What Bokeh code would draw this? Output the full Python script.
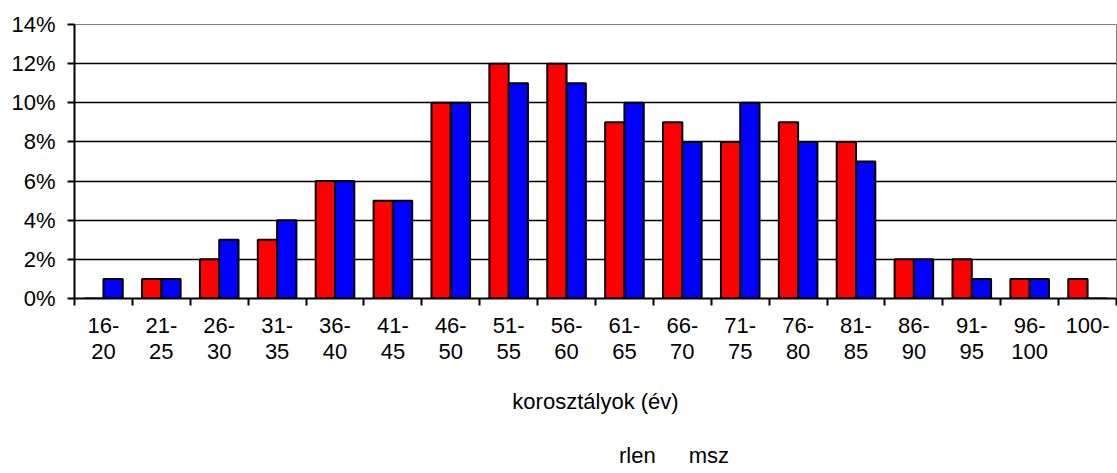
from bokeh.plotting import figure
from bokeh.layouts import column
from bokeh.models import (Range1d, LinearAxis, FixedTicker, CustomJSTickFormatter,
                          PrintfTickFormatter, Legend, LegendItem, ColumnDataSource, Grid)
from bokeh.transform import dodge
from bokeh.embed import file_html
from bokeh.resources import INLINE

categories = ["16-20", "21-25", "26-30", "31-35", "36-40", "41-45", "46-50", "51-55", "56-60",
              "61-65", "66-70", "71-75", "76-80", "81-85", "86-90", "91-95", "96-100", "100-"]
tick_labels = ["16-\n20", "21-\n25", "26-\n30", "31-\n35", "36-\n40", "41-\n45", "46-\n50", "51-\n55",
               "56-\n60", "61-\n65", "66-\n70", "71-\n75", "76-\n80", "81-\n85", "86-\n90", "91-\n95",
               "96-\n100", "100-"]
rlen = [0, 1, 2, 3, 6, 5, 10, 12, 12, 9, 9, 8, 9, 8, 2, 2, 1, 1]
msz = [1, 1, 3, 4, 6, 5, 10, 11, 11, 10, 8, 10, 8, 7, 2, 1, 1, 0]
y_ticks = [0, 2, 4, 6, 8, 10, 12, 14]
series_names = ["rlen", "msz"]
series_colors = ["#FF0000", "#0000FF"]
axis_title = "korosztályok (év)"

FONT = "Liberation Sans"
FS = "22px"
n = len(categories)
centers = [i + 0.5 for i in range(n)]

src = ColumnDataSource(dict(x=centers, cat=categories, rlen=rlen, msz=msz))

p = figure(width=1117, height=425,
           x_range=Range1d(0, n), y_range=Range1d(0, 14),
           output_backend="svg", toolbar_location=None,
           x_axis_location=None, y_axis_location=None,
           min_border_left=74, min_border_right=1, min_border_top=24, min_border_bottom=127)
p.center = []
p.background_fill_color = "white"
p.border_fill_color = "white"
p.outline_line_color = "#808080"
p.outline_line_width = 1

# y axis
yax = LinearAxis(ticker=FixedTicker(ticks=y_ticks), formatter=PrintfTickFormatter(format="%d%%"))
yax.major_tick_out = 7
yax.major_tick_in = 0
yax.minor_tick_line_color = None
yax.axis_line_width = 2
yax.axis_line_color = "black"
yax.major_tick_line_width = 2
yax.major_tick_line_color = "black"
yax.major_label_text_font = FONT
yax.major_label_text_font_size = FS
yax.major_label_text_color = "black"
yax.major_label_standoff = 12
p.add_layout(yax, "left")

grid = Grid(dimension=1, ticker=FixedTicker(ticks=y_ticks))
grid.grid_line_color = "black"
grid.grid_line_width = 1.5
p.add_layout(grid)

# boundary ticks axis
xa = LinearAxis(ticker=FixedTicker(ticks=list(range(n + 1))),
                formatter=CustomJSTickFormatter(code="return ''"))
xa.major_label_text_font_size = "0px"
xa.major_label_standoff = 0
xa.major_tick_out = 7
xa.major_tick_in = 0
xa.minor_tick_line_color = None
xa.axis_line_width = 2
xa.axis_line_color = "black"
xa.major_tick_line_width = 2
xa.major_tick_line_color = "black"
p.add_layout(xa, "below")

# label axis
xb = LinearAxis(ticker=FixedTicker(ticks=centers),
                formatter=CustomJSTickFormatter(args=dict(labels=tick_labels),
                                                code="return labels[Math.floor(tick)]"))
xb.axis_line_color = None
xb.major_tick_line_color = None
xb.major_tick_out = 0
xb.major_tick_in = 0
xb.minor_tick_line_color = None
xb.major_label_text_font = FONT
xb.major_label_text_font_size = FS
xb.major_label_text_line_height = 1.05
xb.major_label_text_color = "black"
xb.major_label_standoff = 7
xb.major_label_orientation = "horizontal"
xb.axis_label = axis_title
xb.axis_label_text_font = FONT
xb.axis_label_text_font_size = FS
xb.axis_label_text_font_style = "normal"
xb.axis_label_text_color = "black"
xb.axis_label_standoff = 22
p.add_layout(xb, "below")

w = 1 / 3
p.vbar(x=dodge("x", -w / 2), top="rlen", width=w, source=src,
       fill_color=series_colors[0], line_color="black", line_width=2)
p.vbar(x=dodge("x", w / 2), top="msz", width=w, source=src,
       fill_color=series_colors[1], line_color="black", line_width=2)

# legend strip below the chart
pl = figure(width=1117, height=48, x_range=Range1d(0, 1), y_range=Range1d(0, 1),
            output_backend="svg", toolbar_location=None,
            x_axis_location=None, y_axis_location=None, min_border=0)
pl.center = []
pl.outline_line_color = None
pl.background_fill_color = "white"
pl.border_fill_color = "white"
empty = ColumnDataSource(dict(x=[], top=[]))
lr1 = pl.vbar(x="x", top="top", width=0.1, source=empty,
              fill_color=series_colors[0], line_color="black", line_width=2)
lr2 = pl.vbar(x="x", top="top", width=0.1, source=empty,
              fill_color=series_colors[1], line_color="black", line_width=2)

legend = Legend(items=[LegendItem(label=series_names[0], renderers=[lr1]),
                       LegendItem(label=series_names[1], renderers=[lr2])],
                orientation="horizontal", location=(528, 4))
legend.border_line_color = None
legend.background_fill_alpha = 0
legend.padding = 0
legend.margin = 0
legend.spacing = 16
legend.glyph_width = 13
legend.glyph_height = 13
legend.label_standoff = 4
legend.label_text_font = FONT
legend.label_text_font_size = FS
legend.label_text_color = "black"
pl.add_layout(legend)

layout = column(p, pl, spacing=0)

open("out.html", "w").write(file_html(layout, INLINE))
